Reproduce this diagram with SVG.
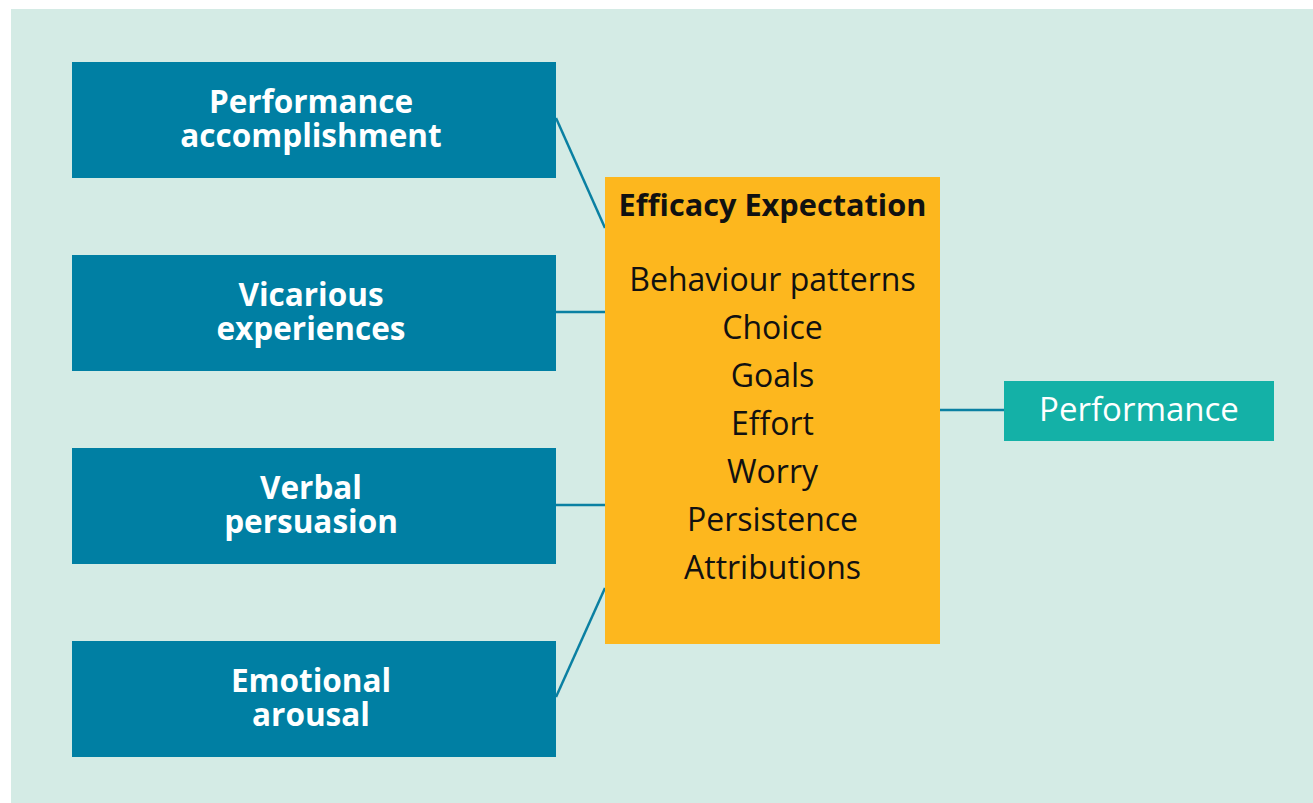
<svg xmlns="http://www.w3.org/2000/svg" width="1313" height="803" viewBox="0 0 1313 803">
<style>
.src{fill:#007fa3}
.lbl{font-family:"Open Sans","Noto Sans",sans-serif;font-weight:bold;font-size:31.5px;fill:#ffffff;text-anchor:middle}
.item{font-family:"Open Sans","Noto Sans",sans-serif;font-size:32px;fill:#111111;text-anchor:middle}
.conn{stroke:#0a80a2;stroke-width:2.5;fill:none}
</style>
<rect x="0" y="0" width="1313" height="803" fill="#ffffff"/>
<rect x="11" y="9" width="1302" height="794" fill="#d4ebe5"/>
<g id="connectors">
<line class="conn" x1="556" y1="118" x2="605" y2="228"/>
<line class="conn" x1="556" y1="312" x2="605" y2="312"/>
<line class="conn" x1="556" y1="505" x2="605" y2="505"/>
<line class="conn" x1="556" y1="697" x2="605" y2="588"/>
<line class="conn" x1="940" y1="410" x2="1004" y2="410"/>
</g>
<g id="performance-accomplishment">
<rect class="src" x="72" y="62" width="484" height="116"/>
<text class="lbl" x="311" y="113">Performance</text>
<text class="lbl" x="311" y="147">accomplishment</text>
</g>
<g id="vicarious-experiences">
<rect class="src" x="72" y="255" width="484" height="116"/>
<text class="lbl" x="311" y="306">Vicarious</text>
<text class="lbl" x="311" y="340">experiences</text>
</g>
<g id="verbal-persuasion">
<rect class="src" x="72" y="448" width="484" height="116"/>
<text class="lbl" x="311" y="499">Verbal</text>
<text class="lbl" x="311" y="533">persuasion</text>
</g>
<g id="emotional-arousal">
<rect class="src" x="72" y="641" width="484" height="116"/>
<text class="lbl" x="311" y="692">Emotional</text>
<text class="lbl" x="311" y="726">arousal</text>
</g>
<g id="efficacy-expectation">
<rect x="605" y="177" width="335" height="467" fill="#fdb71e"/>
<text x="772.5" y="216" style="font-family:'Open Sans','Noto Sans',sans-serif;font-weight:bold;font-size:30.7px;fill:#111111;text-anchor:middle">Efficacy Expectation</text>
<text class="item" x="772.5" y="291">Behaviour patterns</text>
<text class="item" x="772.5" y="339">Choice</text>
<text class="item" x="772.5" y="387">Goals</text>
<text class="item" x="772.5" y="435">Effort</text>
<text class="item" x="772.5" y="483">Worry</text>
<text class="item" x="772.5" y="531">Persistence</text>
<text class="item" x="772.5" y="579">Attributions</text>
</g>
<g id="performance">
<rect x="1004" y="381" width="270" height="60" fill="#14b1a7"/>
<text x="1139" y="421" style="font-family:'Open Sans','Noto Sans',sans-serif;font-size:33px;fill:#ffffff;text-anchor:middle">Performance</text>
</g>
</svg>
